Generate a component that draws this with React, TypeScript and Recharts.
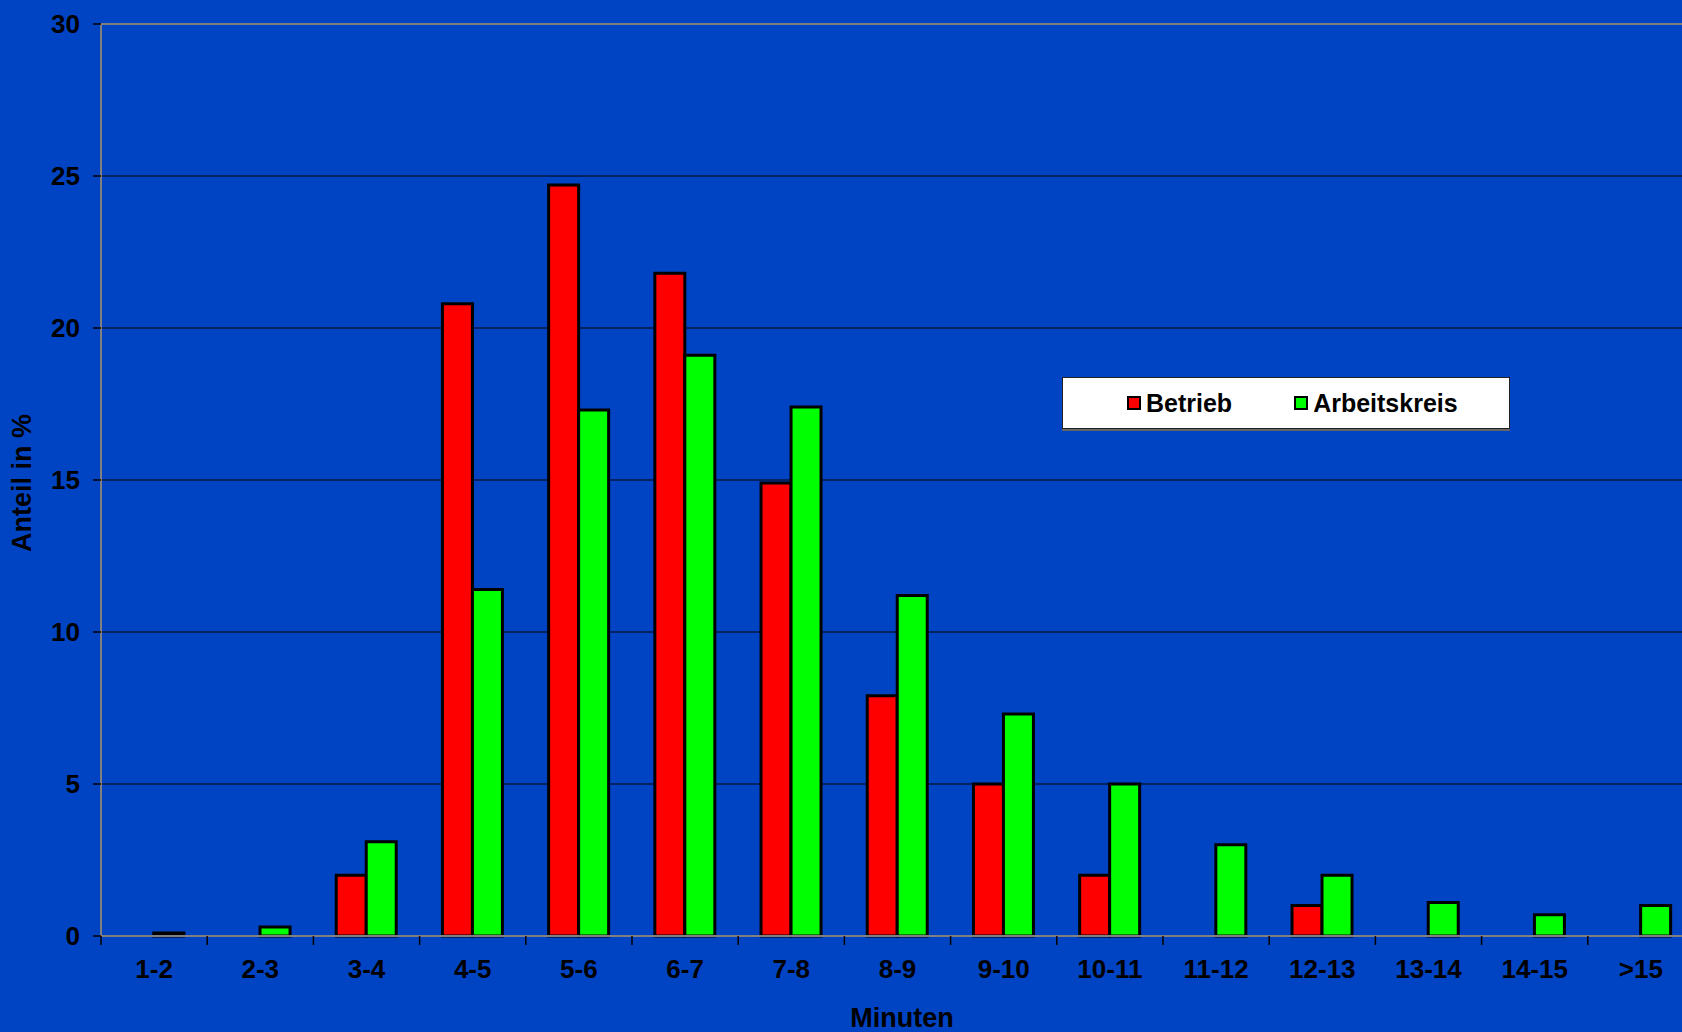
import React from 'react';
import { BarChart, Bar, XAxis, YAxis, CartesianGrid, Legend, ReferenceLine, Label } from 'recharts';

const categories = ['1-2', '2-3', '3-4', '4-5', '5-6', '6-7', '7-8', '8-9', '9-10', '10-11', '11-12', '12-13', '13-14', '14-15', '>15'];
const seriesNames = ['Betrieb', 'Arbeitskreis'];
const betrieb = [0, 0, 2.0, 20.8, 24.7, 21.8, 14.9, 7.9, 5.0, 2.0, 0, 1.0, 0, 0, 0];
const arbeitskreis = [0.1, 0.3, 3.1, 11.4, 17.3, 19.1, 17.4, 11.2, 7.3, 5.0, 3.0, 2.0, 1.1, 0.7, 1.0];
const yTicks = [0, 5, 10, 15, 20, 25, 30];

const data = categories.map((name, i) => ({
  name,
  Betrieb: betrieb[i],
  Arbeitskreis: arbeitskreis[i],
}));

const FONT = '"Liberation Sans", Arial, sans-serif';
const BG = '#0044c4';

function CategoryTick(props: any) {
  const { x, y, payload } = props;
  const half = payload && typeof payload.offset === 'number' && payload.offset > 0 ? payload.offset : 52.7;
  return (
    <g>
      <line x1={x - half} x2={x - half} y1={y} y2={y + 9} stroke="#000" strokeWidth={1.5} />
      <text
        x={x}
        y={y + 33}
        textAnchor="middle"
        dominantBaseline="central"
        fontFamily={FONT}
        fontWeight="bold"
        fontSize={26}
        fill="#000"
      >
        {payload.value}
      </text>
    </g>
  );
}

function renderLegend(props: any) {
  const items = [...(props.payload || [])].sort(
    (a: any, b: any) => seriesNames.indexOf(a.value) - seriesNames.indexOf(b.value)
  );
  return (
    <div
      style={{
        width: 448,
        height: 52,
        boxSizing: 'border-box',
        background: '#fff',
        border: '1px solid #222',
        boxShadow: '0 2px 0 #666',
        display: 'flex',
        alignItems: 'center',
        paddingLeft: 64,
        fontFamily: FONT,
        fontWeight: 'bold',
        fontSize: 25,
        color: '#000',
      }}
    >
      {items.map((entry: any, i: number) => (
        <div key={entry.value} style={{ display: 'flex', alignItems: 'center', marginRight: i === 0 ? 62 : 0 }}>
          <span
            style={{
              width: 10,
              height: 10,
              background: entry.color,
              border: '2px solid #000',
              marginRight: 5,
              display: 'inline-block',
            }}
          />
          <span>{entry.value}</span>
        </div>
      ))}
    </div>
  );
}

export default function App() {
  return (
    <div style={{ position: 'absolute', left: 0, top: 0, width: 1682, height: 1032, background: BG, overflow: 'hidden' }}>
      <BarChart
        width={1694}
        height={1032}
        data={data}
        margin={{ top: 24, right: 0, bottom: 0, left: 0 }}
        barCategoryGap="21.5%"
        barGap={0}
      >
        <CartesianGrid horizontal vertical={false} stroke="#000" strokeWidth={1} />
        <XAxis
          dataKey="name"
          height={96}
          interval={0}
          tickSize={0}
          tickMargin={0}
          tickLine={false}
          axisLine={{ stroke: '#808080', strokeWidth: 2 }}
          tick={<CategoryTick />}
        >
          <Label
            content={() => (
              <text x={902} y={1018} textAnchor="middle" dominantBaseline="central" fontFamily={FONT} fontWeight="bold" fontSize={27} fill="#000">
                Minuten
              </text>
            )}
          />
        </XAxis>
        <YAxis
          width={101}
          domain={[0, 30]}
          ticks={yTicks}
          interval={0}
          tickSize={8}
          tickMargin={13}
          tickLine={{ stroke: '#000', strokeWidth: 1.5 }}
          axisLine={{ stroke: '#808080', strokeWidth: 2 }}
          tick={{ fill: '#000', fontFamily: FONT, fontWeight: 'bold', fontSize: 26 }}
        >
          <Label
            content={() => (
              <text
                x={22}
                y={483}
                transform="rotate(-90 22 483)"
                textAnchor="middle"
                dominantBaseline="central"
                fontFamily={FONT}
                fontWeight="bold"
                fontSize={27}
                fill="#000"
              >
                Anteil in %
              </text>
            )}
          />
        </YAxis>
        <ReferenceLine y={30} stroke="#808080" strokeWidth={2} />
        <Legend
          layout="vertical"
          align="center"
          verticalAlign="middle"
          wrapperStyle={{ left: 1062, top: 377, width: 448, height: 52 }}
          content={renderLegend}
        />
        <Bar dataKey="Betrieb" fill="#ff0000" stroke="#000" strokeWidth={3} isAnimationActive={false} />
        <Bar dataKey="Arbeitskreis" fill="#00ff00" stroke="#000" strokeWidth={3} isAnimationActive={false} />
      </BarChart>
    </div>
  );
}
